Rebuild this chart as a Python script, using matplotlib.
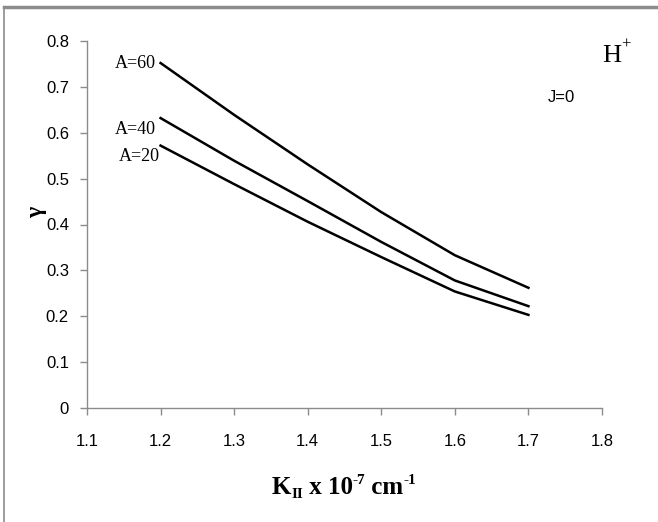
import matplotlib
matplotlib.use("Agg")
import matplotlib.pyplot as plt
from matplotlib.lines import Line2D

# Data
k_values = [1.2, 1.3, 1.4, 1.5, 1.6, 1.7]
gamma_a60 = [0.752, 0.639, 0.531, 0.427, 0.333, 0.262]
gamma_a40 = [0.632, 0.539, 0.451, 0.362, 0.278, 0.222]
gamma_a20 = [0.572, 0.488, 0.406, 0.329, 0.254, 0.203]
series_labels = ["A=60", "A=40", "A=20"]
x_ticks = [1.1, 1.2, 1.3, 1.4, 1.5, 1.6, 1.7, 1.8]
y_ticks = [0, 0.1, 0.2, 0.3, 0.4, 0.5, 0.6, 0.7, 0.8]

W, H = 658, 522
fig = plt.figure(figsize=(W / 100, H / 100), dpi=100)

def fx(px):
    return px / W

def fy(py):
    return 1 - py / H

# outer frame (top and left visible)
fig.add_artist(Line2D([fx(4), 1.0], [fy(7), fy(7)], transform=fig.transFigure,
                      color="#8c8c8c", linewidth=2.5))
fig.add_artist(Line2D([fx(4), fx(4)], [fy(7), 0.0], transform=fig.transFigure,
                      color="#8c8c8c", linewidth=1.2))

ax = fig.add_axes([fx(87), fy(408), fx(602) - fx(87), fy(41) - fy(408)])

for ys in (gamma_a60, gamma_a40, gamma_a20):
    ax.plot(k_values, ys, color="black", linewidth=1.8)

ax.set_xlim(1.1, 1.8)
ax.set_ylim(0, 0.8)
ax.set_xticks(x_ticks)
ax.set_yticks(y_ticks)
ax.set_xticklabels([f"{v:g}" for v in x_ticks])
ax.set_yticklabels([f"{v:g}" for v in y_ticks])

tick_font = ["Liberation Sans Narrow", "Liberation Sans", "DejaVu Sans"]
for lab in ax.get_xticklabels() + ax.get_yticklabels():
    lab.set_family(tick_font)
    lab.set_fontsize(12)

for s in ("top", "right"):
    ax.spines[s].set_visible(False)
for s in ("left", "bottom"):
    ax.spines[s].set_color("#8c8c8c")
    ax.spines[s].set_linewidth(1.0)
ax.tick_params(axis="both", direction="out", length=5, color="#8c8c8c", width=1)
ax.tick_params(axis="x", pad=14)
ax.tick_params(axis="y", pad=8)

serif = ["Liberation Serif", "DejaVu Serif"]

# series labels near line starts
label_pos = [(135, 63), (135, 129), (139, 156)]
for txt, (px, py) in zip(series_labels, label_pos):
    fig.text(fx(px), fy(py), txt, family=serif, fontsize=13,
             ha="center", va="center")

fig.text(fx(612), fy(56), "H", family=serif, fontsize=19,
         ha="center", va="center")
fig.text(fx(621), fy(45), "+", family=serif, fontsize=12,
         ha="left", va="center")
fig.text(fx(561), fy(98), "J=0", family=tick_font, fontsize=12,
         ha="center", va="center")

# axis label built from pieces (plain hyphens as in the original)
xl_y = fy(488)
pieces = [
    ("K", 18, -0),
    ("II", 11, -6),
    (" x 10", 18, 0),
    ("-7", 11, 8),
    (" cm", 18, 0),
    ("-1", 11, 8),
]
fig.canvas.draw()
renderer = fig.canvas.get_renderer()
widths = []
texts = []
for s, size, dy in pieces:
    t = fig.text(0, xl_y + dy / H, s, family=serif, fontsize=size,
                 fontweight="bold", ha="left", va="center")
    texts.append(t)
    widths.append(t.get_window_extent(renderer).width)
total = sum(widths)
x0 = 344 - total / 2
for t, w in zip(texts, widths):
    t.set_x(fx(x0))
    x0 += w

fig.text(fx(37), fy(212), "γ", family=serif, fontsize=17, fontweight="bold",
         rotation=90, ha="center", va="center")

fig.savefig("out.png", dpi=100)
